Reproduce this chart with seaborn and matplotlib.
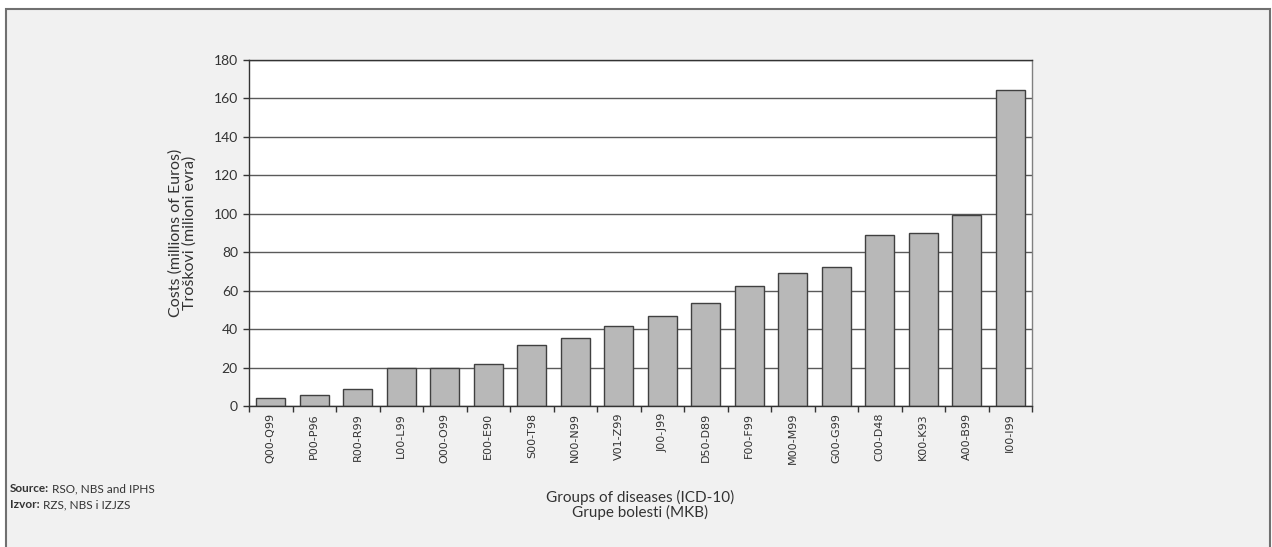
import matplotlib
matplotlib.use("Agg")
import matplotlib.pyplot as plt
from matplotlib.patches import Rectangle
import seaborn as sns

# disease groups (ICD-10) and costs in millions of euros
groups = ['Q00-Q99', 'P00-P96', 'R00-R99', 'L00-L99', 'O00-O99', 'E00-E90',
          'S00-T98', 'N00-N99', 'V01-Z99', 'J00-J99', 'D50-D89', 'F00-F99',
          'M00-M99', 'G00-G99', 'C00-D48', 'K00-K93', 'A00-B99', 'I00-I99']
costs = [4.4, 5.5, 8.9, 20.0, 20.0, 22.0, 31.8, 35.2, 41.7, 46.9, 53.4, 62.2,
         69.0, 72.4, 88.8, 89.8, 99.2, 164.4]
y_ticks = [0, 20, 40, 60, 80, 100, 120, 140, 160, 180]

sns.set_style("white")
plt.rcParams['font.family'] = ['Lato', 'DejaVu Sans']

fig = plt.figure(figsize=(12.72, 5.47), dpi=100, facecolor='white')
# grey panel with border behind everything
fig.patches.append(Rectangle((6/1272, -0.01), 1264/1272, 1 - 9/547 + 0.01,
                             transform=fig.transFigure, facecolor='#f1f1f1',
                             edgecolor='#707070', linewidth=1.5, zorder=-10))

ax = fig.add_axes([249/1272, 1 - 406/547, (1032 - 249)/1272, (406 - 60)/547])
ax.set_facecolor('white')

sns.barplot(x=groups, y=costs, color='#b8b8b8', edgecolor='#404040',
            linewidth=1.0, width=0.67, saturation=1, ax=ax)

ax.set_ylim(0, 180)
ax.set_xlim(-0.5, len(groups) - 0.5)
ax.set_yticks(y_ticks)
ax.set_yticklabels([str(v) for v in y_ticks], fontsize=10, color='#333333')
ax.set_axisbelow(True)
ax.yaxis.grid(True, color='#5a5a5a', linewidth=1.0)
ax.xaxis.grid(False)

ax.set_xticks(range(len(groups)))
ax.set_xticklabels(groups, rotation=90, fontsize=8, color='#333333',
                   family='DejaVu Sans')
ax.set_xticks([i - 0.5 for i in range(len(groups) + 1)], minor=True)
ax.tick_params(axis='x', which='major', length=0, pad=5)
ax.tick_params(axis='x', which='minor', length=4, width=1, color='#333333',
               direction='out', bottom=True)
ax.tick_params(axis='y', length=4, width=1, color='#333333', direction='out',
               left=True, pad=4)

for side in ['left', 'bottom', 'top']:
    ax.spines[side].set_color('#333333')
    ax.spines[side].set_linewidth(1.0)
ax.spines['right'].set_color('#808080')
ax.spines['right'].set_linewidth(1.0)

ax.set_ylabel('Costs (millions of Euros)\nTroškovi (milioni evra)', fontsize=11.5,
              color='#333333', linespacing=1.0, labelpad=12)
ax.set_xlabel('Groups of diseases (ICD-10)\nGrupe bolesti (MKB)', fontsize=11,
              color='#333333', linespacing=1.0, labelpad=18)

t1 = fig.text(10/1272, 1 - 489/547, 'Source:', fontsize=8.5, fontweight='bold',
              color='#333333', va='center')
ax.annotate(' RSO, NBS and IPHS', xy=(1, 0.5), xycoords=t1, va='center',
            fontsize=8.5, color='#333333', annotation_clip=False)
t2 = fig.text(10/1272, 1 - 505/547, 'Izvor:', fontsize=8.5, fontweight='bold',
              color='#333333', va='center')
ax.annotate(' RZS, NBS i IZJZS', xy=(1, 0.5), xycoords=t2, va='center',
            fontsize=8.5, color='#333333', annotation_clip=False)

fig.savefig('out.png', dpi=100, facecolor=fig.get_facecolor())
